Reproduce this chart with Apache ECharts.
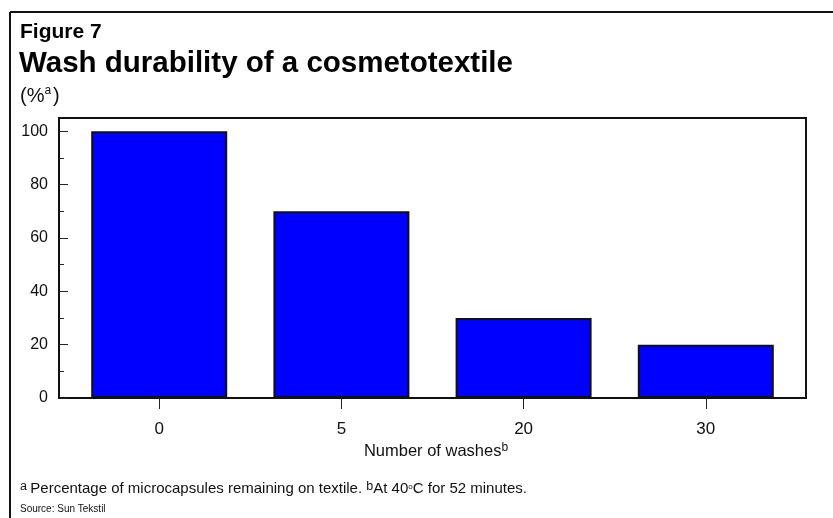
<!DOCTYPE html>
<html>
<head>
<meta charset="utf-8">
<script src="https://cdn.jsdelivr.net/npm/echarts@6/dist/echarts.min.js"></script>
<style>
  html, body { margin: 0; padding: 0; background: #fff; }
  #chart { width: 833px; height: 518px; }
</style>
</head>
<body>
<div id="chart"></div>
<script>
// Wash counts on the horizontal axis and the share of microcapsules left (%)
const washCounts = ['0', '5', '20', '30'];
const remainingPct = [100, 70, 30, 20];
const yMinorTicks = [10, 30, 50, 70, 90];

const FONT = '"Liberation Sans", Arial, Helvetica, sans-serif';
const chart = echarts.init(document.getElementById('chart'), null, { renderer: 'canvas' });

const positions = washCounts.map((_, i) => i);

chart.setOption({
  animation: false,
  backgroundColor: '#fff',
  textStyle: { fontFamily: FONT },
  grid: {
    left: 59, top: 118, width: 747, height: 280,
    show: true, borderColor: '#111', borderWidth: 2, backgroundColor: '#fff'
  },
  xAxis: {
    type: 'value',
    min: -0.55, max: 3.55,
    splitLine: { show: false },
    axisLine: { show: false, onZero: false },
    axisTick: {
      show: true, length: 11, inside: false,
      customValues: positions,
      lineStyle: { color: '#222', width: 1 }
    },
    axisLabel: {
      customValues: positions,
      formatter: v => washCounts[Math.round(v)],
      color: '#111', fontSize: 17, fontFamily: FONT, margin: 23
    }
  },
  yAxis: [{
    type: 'value',
    min: 0, max: 105, interval: 20,
    splitLine: { show: false },
    axisLine: { show: false, onZero: false },
    axisTick: {
      show: true, inside: true, length: 9,
      lineStyle: { color: '#222', width: 1 }
    },
    axisLabel: {
      showMaxLabel: false,
      color: '#111', fontSize: 16, fontFamily: FONT, margin: 11
    }
  }, {
    type: 'value',
    position: 'left',
    min: 0, max: 105,
    splitLine: { show: false },
    axisLine: { show: false, onZero: false },
    axisTick: {
      show: true, inside: true, length: 5,
      customValues: yMinorTicks,
      lineStyle: { color: '#222', width: 1 }
    },
    axisLabel: { show: false }
  }],
  series: [{
    type: 'bar',
    data: remainingPct.map((v, i) => [i, v]),
    barWidth: 136,
    itemStyle: { color: '#0000ff', borderColor: '#111', borderWidth: 2 }
  }],
  graphic: [
    // outer frame: left and top rules
    { type: 'line', shape: { x1: 10, y1: 12, x2: 833, y2: 12 }, style: { stroke: '#111', lineWidth: 2 } },
    { type: 'line', shape: { x1: 10, y1: 12, x2: 10, y2: 518 }, style: { stroke: '#111', lineWidth: 2 } },
    {
      type: 'text', left: 20, top: 22,
      style: { text: 'Figure 7', font: 'bold 21px ' + FONT, fill: '#000' }
    },
    {
      type: 'text', left: 19, top: 49,
      style: { text: 'Wash durability of a cosmetotextile', font: 'bold 29.5px ' + FONT, fill: '#000' }
    },
    {
      type: 'text', left: 20, top: 85,
      style: {
        text: '{n|(%}{s|a}{n|)}',
        rich: {
          n: { fontSize: 20, fontFamily: FONT, fill: '#111', lineHeight: 24 },
          s: { fontSize: 12, fontFamily: FONT, fill: '#111', lineHeight: 24, padding: [0, 2, 10, 0] }
        }
      }
    },
    {
      type: 'text', x: 436, y: 451,
      style: {
        text: '{n|Number of washes}{s|b}',
        align: 'center', verticalAlign: 'middle',
        rich: {
          n: { fontSize: 16.5, fontFamily: FONT, fill: '#111' },
          s: { fontSize: 12, fontFamily: FONT, fill: '#111', padding: [0, 0, 6, 0] }
        }
      }
    },
    {
      type: 'text', left: 20, top: 480,
      style: {
        text: '{s|a} {n|Percentage of microcapsules remaining on textile. }{s|b}{n|At 40}{o|o}{n|C for 52 minutes.}',
        rich: {
          n: { fontSize: 15, fontFamily: FONT, fill: '#111' },
          s: { fontSize: 12.5, fontFamily: FONT, fill: '#111', padding: [0, 0, 5, 0] },
          o: { fontSize: 8, fontFamily: FONT, fill: '#111', padding: [0, 0, 5, 0] }
        }
      }
    },
    {
      type: 'text', left: 20, top: 504,
      style: { text: 'Source: Sun Tekstil', font: '10px ' + FONT, fill: '#111' }
    }
  ]
});
</script>
</body>
</html>
